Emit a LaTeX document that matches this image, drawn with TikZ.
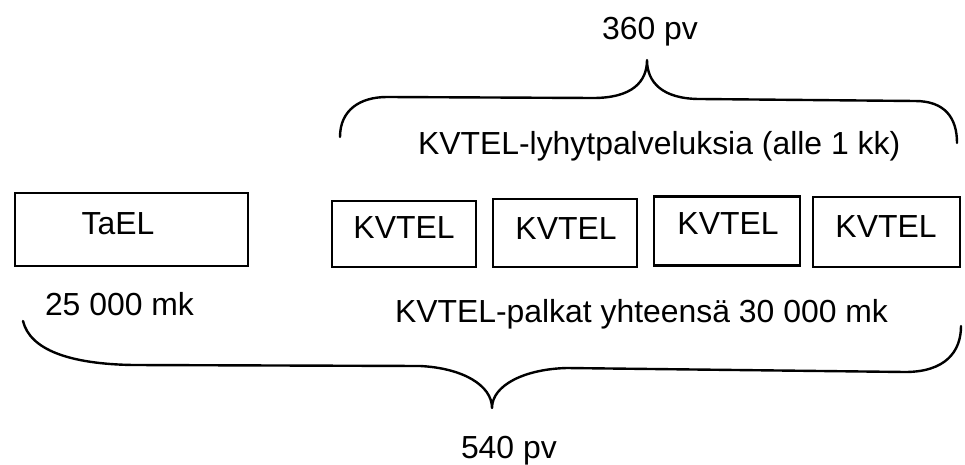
\documentclass[tikz,border=0pt]{standalone}
\usepackage{fontspec}
\setmainfont{Liberation Sans}
\begin{document}
\begin{tikzpicture}[x=1pt,y=-1pt,
  every node/.style={inner sep=0pt, outer sep=0pt},
  lbl/.style={font=\fontsize{31.9pt}{38pt}\selectfont},
  box/.style={draw=black, line width=2.2pt},
  brace/.style={draw=black, line width=2.4pt, line cap=round, line join=round}]
\useasboundingbox (0,0) rectangle (965,465);
% boxes
\node[box, minimum width=233, minimum height=73] (tael) at (131.5,229.5) {};
\node[box, minimum width=144, minimum height=66] (k1) at (404,234) {};
\node[box, minimum width=144, minimum height=68] (k2) at (565,233) {};
\node[box, minimum width=146, minimum height=69] (k3) at (727,231) {};
\node[box, minimum width=147, minimum height=70] (k4) at (886.5,232) {};
% box labels
\node[lbl, anchor=base] (taelt) at (118,234) {TaEL};
\node[lbl, anchor=base] (k1t) at (404,238) {KVTEL};
\node[lbl, anchor=base] (k2t) at (566,239) {KVTEL};
\node[lbl, anchor=base] (k3t) at (728,234) {KVTEL};
\node[lbl, anchor=base] (k4t) at (886,237) {KVTEL};
% other texts
\node[lbl, anchor=base] (d360) at (650,40) {360 pv};
\node[lbl, anchor=base west] (lyhyt) at (418,154) {KVTEL-lyhytpalveluksia (alle 1 kk)};
\node[lbl, anchor=base west] (mk25) at (45,315) {25 000 mk};
\node[lbl, anchor=base west] (palkat) at (395,322) {KVTEL-palkat yhteensä 30 000 mk};
\node[lbl, anchor=base west] (d540) at (461,458) {540 pv};
% top brace
\draw[brace] (340,137) .. controls (340,110) and (360,97) .. (387,97)
  -- (593,98) .. controls (632,98) and (647,82) .. (647,60)
  .. controls (647,82) and (662,99) .. (700,99)
  -- (915,101) .. controls (945,101) and (957,118) .. (957,143);
% bottom brace
\draw[brace] (23,321) .. controls (30,350) and (70,364) .. (133,365)
  -- (420,366) .. controls (462,368) and (492,385) .. (492,408)
  .. controls (492,385) and (525,369) .. (567,368)
  -- (905,372) .. controls (945,372) and (961,352) .. (961,326);
\end{tikzpicture}
\end{document}
